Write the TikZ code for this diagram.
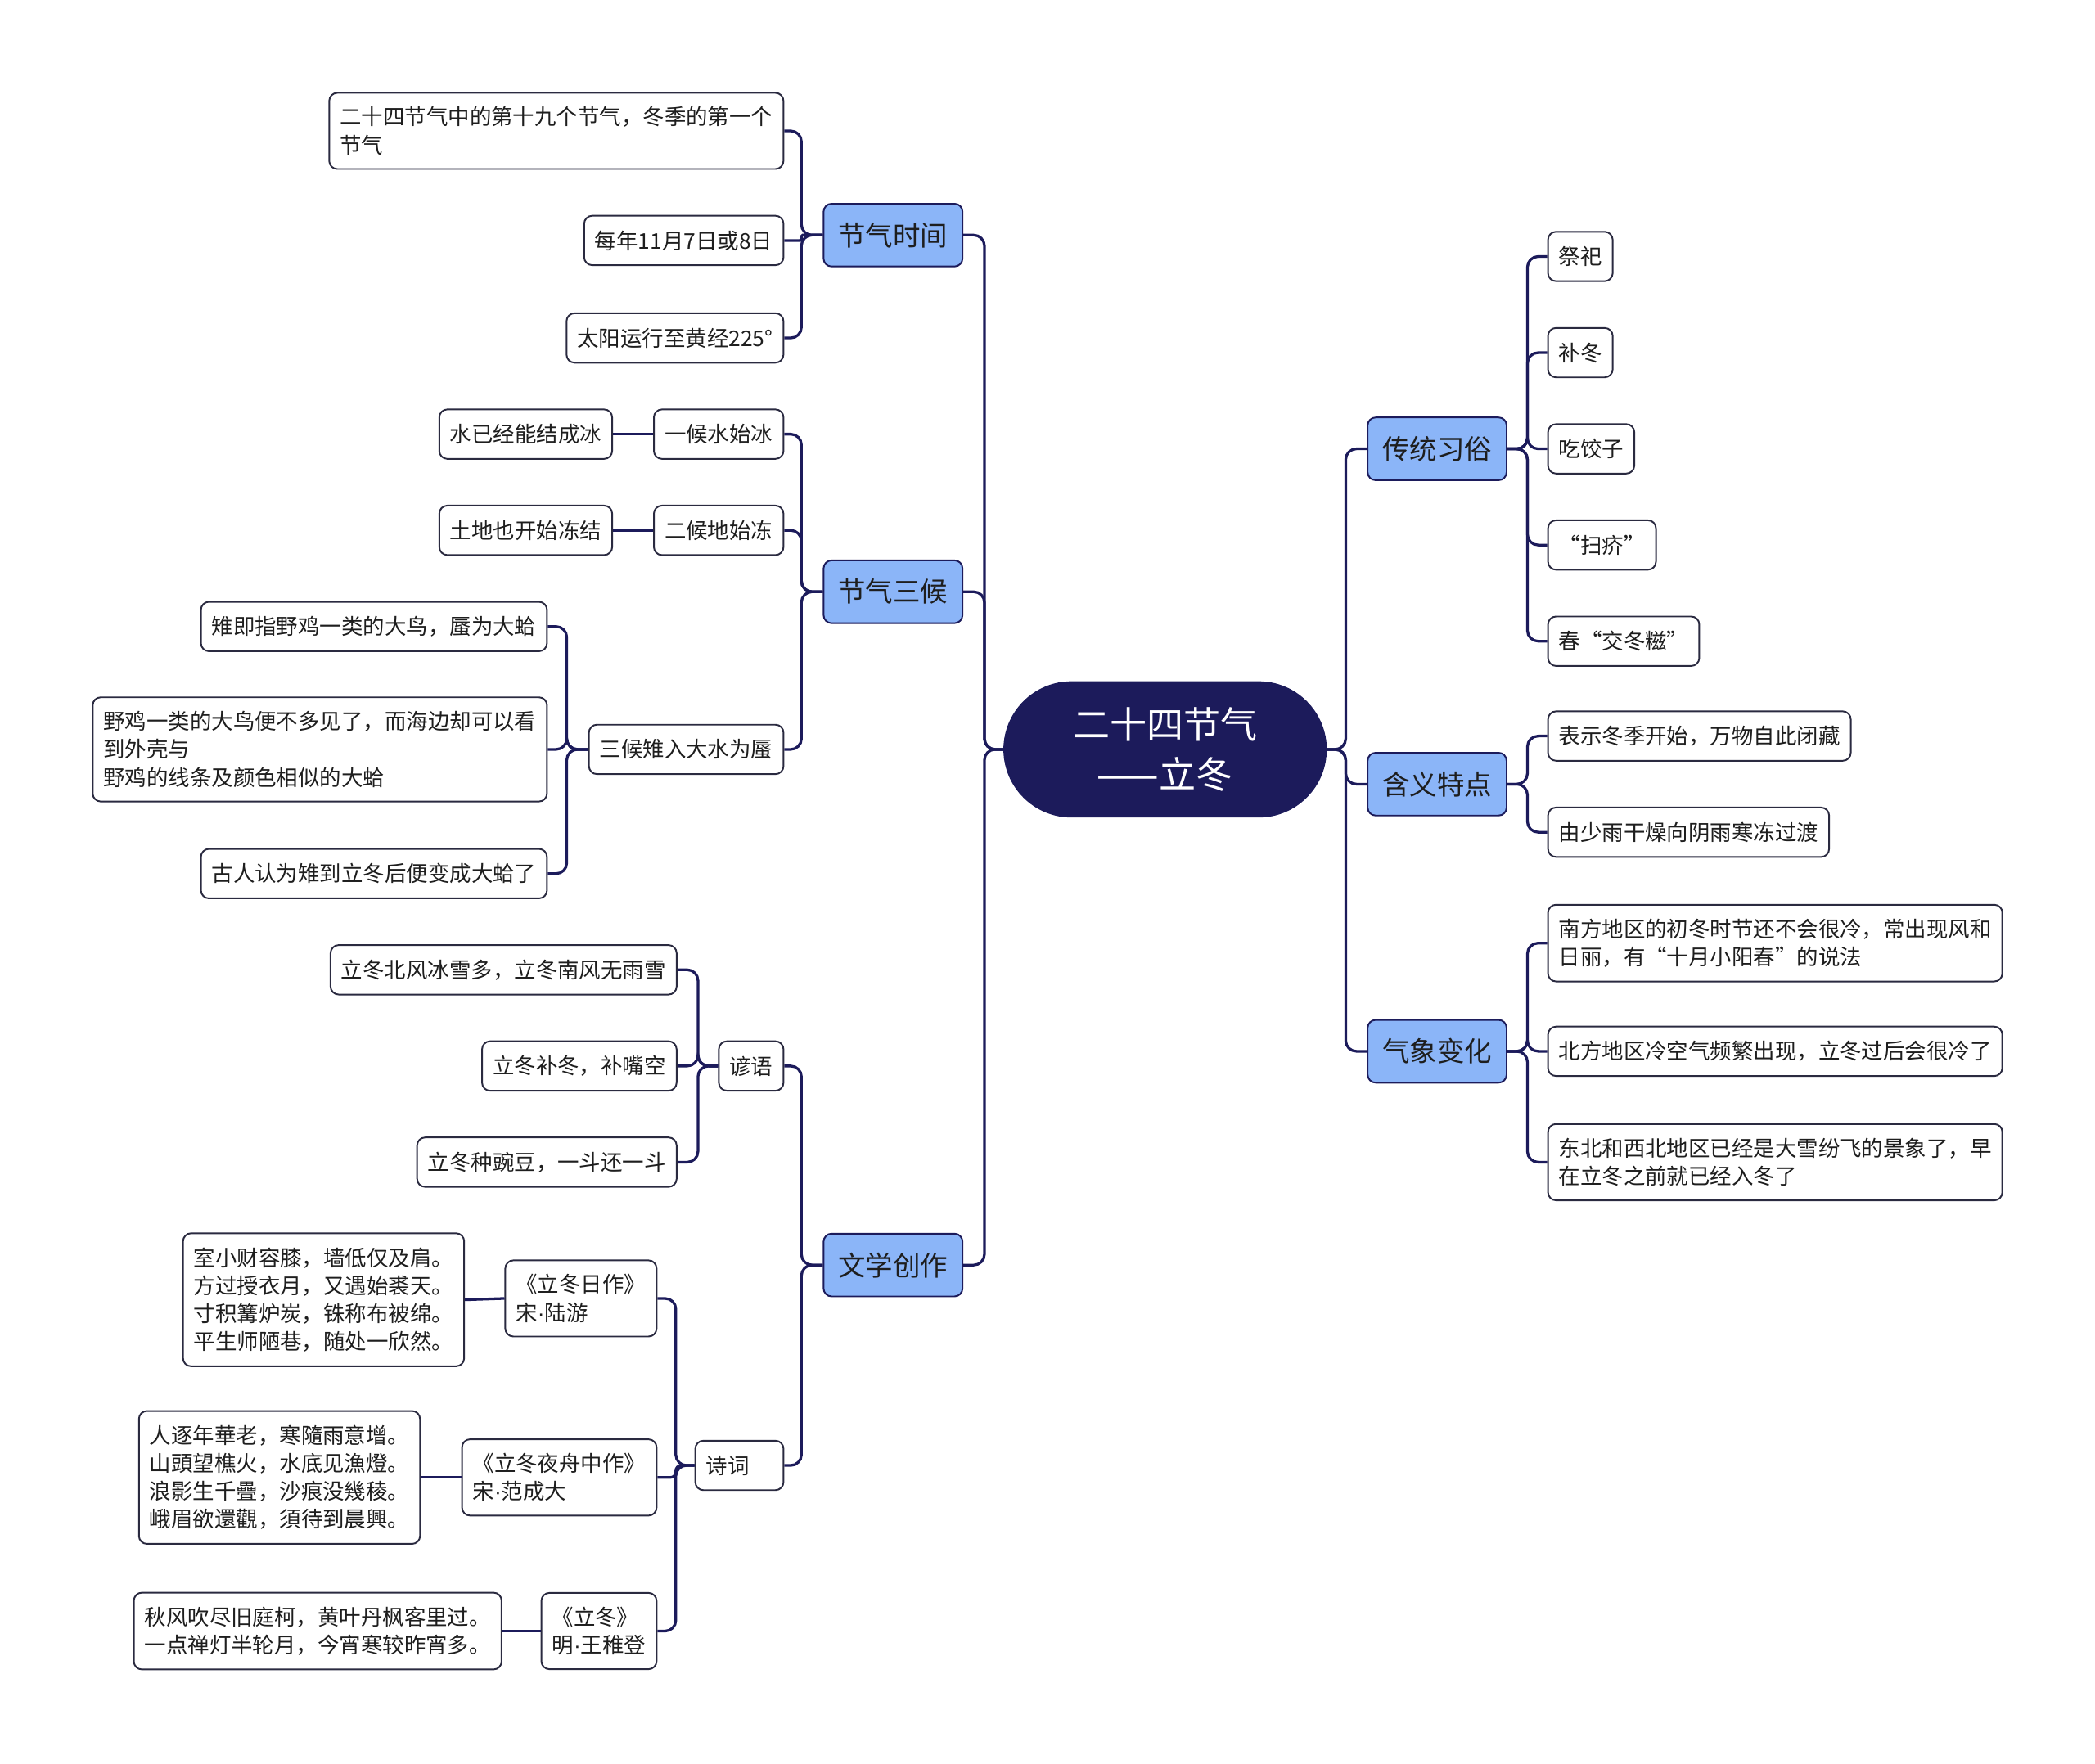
\documentclass[tikz,border=0pt]{standalone}
\usepackage{fontspec}
\setmainfont{Noto Sans CJK SC}
\newfontfamily\latinfont{Liberation Sans}
\usetikzlibrary{positioning}
\definecolor{navy}{HTML}{1C1B5B}
\definecolor{topicblue}{HTML}{8BB5F8}
\definecolor{boxline}{HTML}{2A2A40}
\definecolor{ink}{HTML}{1E1E1E}
\newcommand\leaffont{\fontsize{16.2}{21}\selectfont}
\newcommand\topicfont{\fontsize{20.5}{24}\selectfont}
\newcommand\rootfont{\fontsize{27.6}{37.5}\selectfont}
\newcommand\mdot{{\latinfont ·}}
\tikzset{
  link/.style={draw=navy,line width=2pt,rounded corners=8pt},
  leaf/.style={draw=boxline,line width=1.2pt,rounded corners=6pt,fill=white,
    text=ink,font=\leaffont,align=left,inner xsep=8pt,inner ysep=10.5pt,
    minimum height=37pt},
  topic/.style={draw=navy,line width=1.2pt,rounded corners=6pt,fill=topicblue,
    text=ink,font=\topicfont,minimum width=104pt,minimum height=47pt},
  centre/.style={fill=navy,text=white,font=\rootfont,align=center,
    rounded corners=51pt,minimum width=242pt,minimum height=102pt}
}
\begin{document}
\begin{tikzpicture}[x=1pt,y=-1pt]
\useasboundingbox (0,0) rectangle (1568,1320);

% centre
\node[centre] (lidong) at (872,561) {二十四节气\\——立冬};

% left topics
\node[topic,anchor=east] (shijian) at (721,176) {节气时间};
\node[topic,anchor=east] (sanhou) at (721,443) {节气三候};
\node[topic,anchor=east] (chuangzuo) at (721,947) {文学创作};

% right topics
\node[topic,anchor=west] (xisu) at (1023,336) {传统习俗};
\node[topic,anchor=west] (hanyi) at (1023,587) {含义特点};
\node[topic,anchor=west] (qixiang) at (1023,787) {气象变化};

% 节气时间
\node[leaf,anchor=east] (shijian1) at (587,98) {二十四节气中的第十九个节气，冬季的第一个\\节气};
\node[leaf,anchor=east] (shijian2) at (587,180) {每年11月7日或8日};
\node[leaf,anchor=east] (shijian3) at (587,253) {太阳运行至黄经225°};

% 节气三候
\node[leaf,anchor=east] (hou1) at (587,325) {一候水始冰};
\node[leaf,left=30pt of hou1] (hou1a) {水已经能结成冰};
\node[leaf,anchor=east] (hou2) at (587,397) {二候地始冻};
\node[leaf,left=30pt of hou2] (hou2a) {土地也开始冻结};
\node[leaf,anchor=east] (hou3) at (587,561) {三候雉入大水为蜃};
\node[leaf,anchor=east] (hou3a) at (410,469) {雉即指野鸡一类的大鸟，蜃为大蛤};
\node[leaf,anchor=east] (hou3b) at (410,561) {野鸡一类的大鸟便不多见了，而海边却可以看\\到外壳与\\野鸡的线条及颜色相似的大蛤};
\node[leaf,anchor=east] (hou3c) at (410,654) {古人认为雉到立冬后便变成大蛤了};

% 文学创作
\node[leaf,anchor=east] (yanyu) at (587,798) {谚语};
\node[leaf,anchor=east] (yan1) at (507,726) {立冬北风冰雪多，立冬南风无雨雪};
\node[leaf,anchor=east] (yan2) at (507,798) {立冬补冬，补嘴空};
\node[leaf,anchor=east] (yan3) at (507,870) {立冬种豌豆，一斗还一斗};
\node[leaf,anchor=east,text width=50pt] (shici) at (587,1097) {诗词};
\node[leaf,anchor=east] (shi1) at (492,972) {《立冬日作》\\宋\mdot 陆游};
\node[leaf,anchor=east] (poem1) at (348,973) {室小财容膝，墙低仅及肩。\\方过授衣月，又遇始裘天。\\寸积篝炉炭，铢称布被绵。\\平生师陋巷，随处一欣然。};
\node[leaf,anchor=east] (shi2) at (492,1106) {《立冬夜舟中作》\\宋\mdot 范成大};
\node[leaf,anchor=east] (poem2) at (315,1106) {人逐年華老，寒隨雨意增。\\山頭望樵火，水底见漁燈。\\浪影生千疊，沙痕没幾稜。\\峨眉欲還觀，須待到晨興。};
\node[leaf,anchor=east] (shi3) at (492,1221) {《立冬》\\明\mdot 王稚登};
\node[leaf,anchor=east] (poem3) at (376,1221) {秋风吹尽旧庭柯，黄叶丹枫客里过。\\一点禅灯半轮月，今宵寒较昨宵多。};

% 传统习俗
\node[leaf,anchor=west] (xisu1) at (1158,192) {祭祀};
\node[leaf,anchor=west] (xisu2) at (1158,264) {补冬};
\node[leaf,anchor=west] (xisu3) at (1158,336) {吃饺子};
\node[leaf,anchor=west] (xisu4) at (1158,408) {“扫疥”};
\node[leaf,anchor=west] (xisu5) at (1158,480) {春“交冬糍”};

% 含义特点
\node[leaf,anchor=west] (hanyi1) at (1158,551) {表示冬季开始，万物自此闭藏};
\node[leaf,anchor=west] (hanyi2) at (1158,623) {由少雨干燥向阴雨寒冻过渡};

% 气象变化
\node[leaf,anchor=west] (qixiang1) at (1158,706) {南方地区的初冬时节还不会很冷，常出现风和\\日丽，有“十月小阳春”的说法};
\node[leaf,anchor=west] (qixiang2) at (1158,787) {北方地区冷空气频繁出现，立冬过后会很冷了};
\node[leaf,anchor=west] (qixiang3) at (1158,870) {东北和西北地区已经是大雪纷飞的景象了，早\\在立冬之前就已经入冬了};

% connectors
\foreach \t in {shijian,sanhou,chuangzuo}
  \draw[link] (lidong.west) -- ++(-14,0) |- (\t.east);
\foreach \t in {xisu,hanyi,qixiang}
  \draw[link] (lidong.east) -- ++(14,0) |- (\t.west);

\foreach \c in {1,3}
  \draw[link] (shijian.west) -- ++(-16,0) |- (shijian\c.east);
\draw[link,rounded corners=1pt] (shijian.west) -- ++(-16,0) |- (shijian2.east);
\foreach \c in {hou1,hou2,hou3}
  \draw[link] (sanhou.west) -- ++(-16,0) |- (\c.east);
\draw[link] (hou1.west) -- (hou1a.east);
\draw[link] (hou2.west) -- (hou2a.east);
\foreach \c in {hou3a,hou3b,hou3c}
  \draw[link] (hou3.west) -- ++(-16,0) |- (\c.east);

\foreach \c in {yanyu,shici}
  \draw[link] (chuangzuo.west) -- ++(-16,0) |- (\c.east);
\foreach \c in {1,2,3}
  \draw[link] (yanyu.west) -- ++(-15,0) |- (yan\c.east);
\foreach \c in {1,3}
  \draw[link] (shici.west) -- ++(-14,0) |- (shi\c.east);
\draw[link,rounded corners=4pt] (shici.west) -- ++(-14,0) |- (shi2.east);
\foreach \c in {1,2,3}
  \draw[link] (shi\c.west) -- (poem\c.east);

\foreach \c in {1,...,5}
  \draw[link] (xisu.east) -- ++(15,0) |- (xisu\c.west);
\foreach \c in {1,2}
  \draw[link] (hanyi.east) -- ++(15,0) |- (hanyi\c.west);
\foreach \c in {1,2,3}
  \draw[link] (qixiang.east) -- ++(15,0) |- (qixiang\c.west);
\end{tikzpicture}
\end{document}
